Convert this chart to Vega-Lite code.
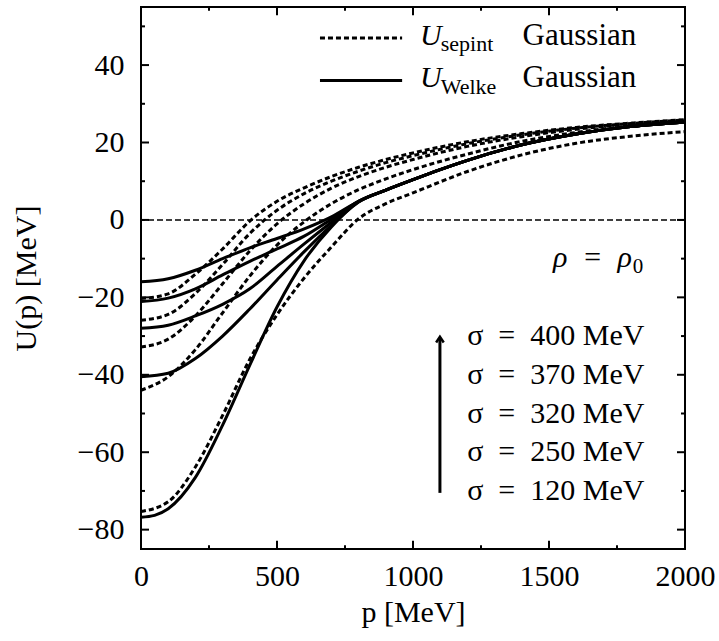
{
  "$schema": "https://vega.github.io/schema/vega-lite/v6.json",
  "width": 544,
  "height": 542,
  "autosize": {"type": "none"},
  "padding": {"left": 141, "top": 7, "right": 34, "bottom": 92},
  "config": {
    "font": "Liberation Serif",
    "view": {"stroke": "black", "strokeWidth": 2},
    "axis": {
      "grid": false, "domain": false, "ticks": false, "labelFlush": false, "labelOverlap": false,
      "labelFont": "Liberation Serif", "labelFontSize": 30, "labelColor": "black",
      "titleFont": "Liberation Serif", "titleFontSize": 30, "titleColor": "black", "titleFontWeight": "normal"
    }
  },
  "datasets": {
    "curves": [
      {"sigma": 400, "model": "sepint", "p": 0, "U": -20.3},
      {"sigma": 400, "model": "sepint", "p": 100, "U": -19.1},
      {"sigma": 400, "model": "sepint", "p": 200, "U": -14},
      {"sigma": 400, "model": "sepint", "p": 300, "U": -7.5},
      {"sigma": 400, "model": "sepint", "p": 400, "U": -0.3},
      {"sigma": 400, "model": "sepint", "p": 500, "U": 4.8},
      {"sigma": 400, "model": "sepint", "p": 600, "U": 8.3},
      {"sigma": 400, "model": "sepint", "p": 700, "U": 11.2},
      {"sigma": 400, "model": "sepint", "p": 800, "U": 13.6},
      {"sigma": 400, "model": "sepint", "p": 900, "U": 15.6},
      {"sigma": 400, "model": "sepint", "p": 1000, "U": 17.3},
      {"sigma": 400, "model": "sepint", "p": 1200, "U": 20.2},
      {"sigma": 400, "model": "sepint", "p": 1400, "U": 22.3},
      {"sigma": 400, "model": "sepint", "p": 1600, "U": 23.9},
      {"sigma": 400, "model": "sepint", "p": 1800, "U": 25},
      {"sigma": 400, "model": "sepint", "p": 2000, "U": 25.9},

      {"sigma": 370, "model": "sepint", "p": 0, "U": -25.9},
      {"sigma": 370, "model": "sepint", "p": 100, "U": -24.4},
      {"sigma": 370, "model": "sepint", "p": 200, "U": -19},
      {"sigma": 370, "model": "sepint", "p": 300, "U": -11.5},
      {"sigma": 370, "model": "sepint", "p": 400, "U": -3.5},
      {"sigma": 370, "model": "sepint", "p": 500, "U": 2.5},
      {"sigma": 370, "model": "sepint", "p": 600, "U": 6.8},
      {"sigma": 370, "model": "sepint", "p": 700, "U": 10},
      {"sigma": 370, "model": "sepint", "p": 800, "U": 12.6},
      {"sigma": 370, "model": "sepint", "p": 900, "U": 14.8},
      {"sigma": 370, "model": "sepint", "p": 1000, "U": 16.6},
      {"sigma": 370, "model": "sepint", "p": 1200, "U": 19.7},
      {"sigma": 370, "model": "sepint", "p": 1400, "U": 22},
      {"sigma": 370, "model": "sepint", "p": 1600, "U": 23.7},
      {"sigma": 370, "model": "sepint", "p": 1800, "U": 24.9},
      {"sigma": 370, "model": "sepint", "p": 2000, "U": 25.8},

      {"sigma": 320, "model": "sepint", "p": 0, "U": -32.8},
      {"sigma": 320, "model": "sepint", "p": 100, "U": -30.8},
      {"sigma": 320, "model": "sepint", "p": 200, "U": -24.8},
      {"sigma": 320, "model": "sepint", "p": 300, "U": -16.5},
      {"sigma": 320, "model": "sepint", "p": 400, "U": -8},
      {"sigma": 320, "model": "sepint", "p": 500, "U": -1},
      {"sigma": 320, "model": "sepint", "p": 600, "U": 4.2},
      {"sigma": 320, "model": "sepint", "p": 700, "U": 8.2},
      {"sigma": 320, "model": "sepint", "p": 800, "U": 11.2},
      {"sigma": 320, "model": "sepint", "p": 900, "U": 13.6},
      {"sigma": 320, "model": "sepint", "p": 1000, "U": 15.6},
      {"sigma": 320, "model": "sepint", "p": 1200, "U": 19},
      {"sigma": 320, "model": "sepint", "p": 1400, "U": 21.5},
      {"sigma": 320, "model": "sepint", "p": 1600, "U": 23.4},
      {"sigma": 320, "model": "sepint", "p": 1800, "U": 24.7},
      {"sigma": 320, "model": "sepint", "p": 2000, "U": 25.7},

      {"sigma": 250, "model": "sepint", "p": 0, "U": -44},
      {"sigma": 250, "model": "sepint", "p": 100, "U": -40.5},
      {"sigma": 250, "model": "sepint", "p": 200, "U": -33.5},
      {"sigma": 250, "model": "sepint", "p": 300, "U": -24},
      {"sigma": 250, "model": "sepint", "p": 400, "U": -14.5},
      {"sigma": 250, "model": "sepint", "p": 500, "U": -6.5},
      {"sigma": 250, "model": "sepint", "p": 600, "U": -0.5},
      {"sigma": 250, "model": "sepint", "p": 700, "U": 4.2},
      {"sigma": 250, "model": "sepint", "p": 800, "U": 7.8},
      {"sigma": 250, "model": "sepint", "p": 900, "U": 10.6},
      {"sigma": 250, "model": "sepint", "p": 1000, "U": 13},
      {"sigma": 250, "model": "sepint", "p": 1200, "U": 17},
      {"sigma": 250, "model": "sepint", "p": 1400, "U": 20.3},
      {"sigma": 250, "model": "sepint", "p": 1600, "U": 22.6},
      {"sigma": 250, "model": "sepint", "p": 1800, "U": 24.3},
      {"sigma": 250, "model": "sepint", "p": 2000, "U": 25.5},

      {"sigma": 120, "model": "sepint", "p": 0, "U": -75.3},
      {"sigma": 120, "model": "sepint", "p": 100, "U": -72.8},
      {"sigma": 120, "model": "sepint", "p": 200, "U": -63.8},
      {"sigma": 120, "model": "sepint", "p": 300, "U": -50.5},
      {"sigma": 120, "model": "sepint", "p": 400, "U": -36},
      {"sigma": 120, "model": "sepint", "p": 500, "U": -24.5},
      {"sigma": 120, "model": "sepint", "p": 600, "U": -15},
      {"sigma": 120, "model": "sepint", "p": 700, "U": -7},
      {"sigma": 120, "model": "sepint", "p": 800, "U": 0.3},
      {"sigma": 120, "model": "sepint", "p": 900, "U": 4.2},
      {"sigma": 120, "model": "sepint", "p": 1000, "U": 7},
      {"sigma": 120, "model": "sepint", "p": 1200, "U": 12.5},
      {"sigma": 120, "model": "sepint", "p": 1400, "U": 16.8},
      {"sigma": 120, "model": "sepint", "p": 1600, "U": 19.8},
      {"sigma": 120, "model": "sepint", "p": 1800, "U": 21.6},
      {"sigma": 120, "model": "sepint", "p": 2000, "U": 22.8},

      {"sigma": 400, "model": "Welke", "p": 0, "U": -16},
      {"sigma": 400, "model": "Welke", "p": 100, "U": -15.2},
      {"sigma": 400, "model": "Welke", "p": 200, "U": -13},
      {"sigma": 400, "model": "Welke", "p": 300, "U": -10},
      {"sigma": 400, "model": "Welke", "p": 400, "U": -7.2},
      {"sigma": 400, "model": "Welke", "p": 500, "U": -4.8},
      {"sigma": 400, "model": "Welke", "p": 600, "U": -2.3},
      {"sigma": 400, "model": "Welke", "p": 700, "U": 0.8},
      {"sigma": 400, "model": "Welke", "p": 800, "U": 4.8},
      {"sigma": 400, "model": "Welke", "p": 900, "U": 7.7},
      {"sigma": 400, "model": "Welke", "p": 1000, "U": 10.4},
      {"sigma": 400, "model": "Welke", "p": 1100, "U": 13},
      {"sigma": 400, "model": "Welke", "p": 1200, "U": 15.4},
      {"sigma": 400, "model": "Welke", "p": 1400, "U": 19.4},
      {"sigma": 400, "model": "Welke", "p": 1600, "U": 22.2},
      {"sigma": 400, "model": "Welke", "p": 1800, "U": 24.1},
      {"sigma": 400, "model": "Welke", "p": 2000, "U": 25.3},

      {"sigma": 370, "model": "Welke", "p": 0, "U": -21.1},
      {"sigma": 370, "model": "Welke", "p": 100, "U": -20.2},
      {"sigma": 370, "model": "Welke", "p": 200, "U": -17.8},
      {"sigma": 370, "model": "Welke", "p": 300, "U": -14.2},
      {"sigma": 370, "model": "Welke", "p": 400, "U": -10.7},
      {"sigma": 370, "model": "Welke", "p": 500, "U": -7.5},
      {"sigma": 370, "model": "Welke", "p": 600, "U": -4.2},
      {"sigma": 370, "model": "Welke", "p": 700, "U": 0.2},
      {"sigma": 370, "model": "Welke", "p": 800, "U": 4.8},
      {"sigma": 370, "model": "Welke", "p": 900, "U": 7.7},
      {"sigma": 370, "model": "Welke", "p": 1000, "U": 10.4},
      {"sigma": 370, "model": "Welke", "p": 1100, "U": 13},
      {"sigma": 370, "model": "Welke", "p": 1200, "U": 15.4},
      {"sigma": 370, "model": "Welke", "p": 1400, "U": 19.4},
      {"sigma": 370, "model": "Welke", "p": 1600, "U": 22.2},
      {"sigma": 370, "model": "Welke", "p": 1800, "U": 24.1},
      {"sigma": 370, "model": "Welke", "p": 2000, "U": 25.3},

      {"sigma": 320, "model": "Welke", "p": 0, "U": -28},
      {"sigma": 320, "model": "Welke", "p": 100, "U": -27.2},
      {"sigma": 320, "model": "Welke", "p": 200, "U": -24.8},
      {"sigma": 320, "model": "Welke", "p": 300, "U": -21.8},
      {"sigma": 320, "model": "Welke", "p": 400, "U": -17.8},
      {"sigma": 320, "model": "Welke", "p": 500, "U": -12},
      {"sigma": 320, "model": "Welke", "p": 600, "U": -6.2},
      {"sigma": 320, "model": "Welke", "p": 700, "U": -0.6},
      {"sigma": 320, "model": "Welke", "p": 800, "U": 4.8},
      {"sigma": 320, "model": "Welke", "p": 900, "U": 7.7},
      {"sigma": 320, "model": "Welke", "p": 1000, "U": 10.4},
      {"sigma": 320, "model": "Welke", "p": 1100, "U": 13},
      {"sigma": 320, "model": "Welke", "p": 1200, "U": 15.4},
      {"sigma": 320, "model": "Welke", "p": 1400, "U": 19.4},
      {"sigma": 320, "model": "Welke", "p": 1600, "U": 22.2},
      {"sigma": 320, "model": "Welke", "p": 1800, "U": 24.1},
      {"sigma": 320, "model": "Welke", "p": 2000, "U": 25.3},

      {"sigma": 250, "model": "Welke", "p": 0, "U": -40.5},
      {"sigma": 250, "model": "Welke", "p": 100, "U": -39.6},
      {"sigma": 250, "model": "Welke", "p": 200, "U": -35.8},
      {"sigma": 250, "model": "Welke", "p": 300, "U": -30},
      {"sigma": 250, "model": "Welke", "p": 400, "U": -23},
      {"sigma": 250, "model": "Welke", "p": 500, "U": -15.5},
      {"sigma": 250, "model": "Welke", "p": 600, "U": -8.2},
      {"sigma": 250, "model": "Welke", "p": 700, "U": -1.4},
      {"sigma": 250, "model": "Welke", "p": 800, "U": 4.7},
      {"sigma": 250, "model": "Welke", "p": 900, "U": 7.7},
      {"sigma": 250, "model": "Welke", "p": 1000, "U": 10.4},
      {"sigma": 250, "model": "Welke", "p": 1100, "U": 13},
      {"sigma": 250, "model": "Welke", "p": 1200, "U": 15.4},
      {"sigma": 250, "model": "Welke", "p": 1400, "U": 19.4},
      {"sigma": 250, "model": "Welke", "p": 1600, "U": 22.2},
      {"sigma": 250, "model": "Welke", "p": 1800, "U": 24.1},
      {"sigma": 250, "model": "Welke", "p": 2000, "U": 25.3},

      {"sigma": 120, "model": "Welke", "p": 0, "U": -76.8},
      {"sigma": 120, "model": "Welke", "p": 50, "U": -76.3},
      {"sigma": 120, "model": "Welke", "p": 100, "U": -74.6},
      {"sigma": 120, "model": "Welke", "p": 200, "U": -66.5},
      {"sigma": 120, "model": "Welke", "p": 300, "U": -53},
      {"sigma": 120, "model": "Welke", "p": 400, "U": -37.5},
      {"sigma": 120, "model": "Welke", "p": 500, "U": -22.5},
      {"sigma": 120, "model": "Welke", "p": 600, "U": -10.5},
      {"sigma": 120, "model": "Welke", "p": 700, "U": -1.8},
      {"sigma": 120, "model": "Welke", "p": 800, "U": 4.6},
      {"sigma": 120, "model": "Welke", "p": 900, "U": 7.7},
      {"sigma": 120, "model": "Welke", "p": 1000, "U": 10.4},
      {"sigma": 120, "model": "Welke", "p": 1100, "U": 13},
      {"sigma": 120, "model": "Welke", "p": 1200, "U": 15.4},
      {"sigma": 120, "model": "Welke", "p": 1400, "U": 19.4},
      {"sigma": 120, "model": "Welke", "p": 1600, "U": 22.2},
      {"sigma": 120, "model": "Welke", "p": 1800, "U": 24.1},
      {"sigma": 120, "model": "Welke", "p": 2000, "U": 25.3}
    ],
    "xmajor": [{"v": 500}, {"v": 1000}, {"v": 1500}],
    "xminor": [{"v": 250}, {"v": 750}, {"v": 1250}, {"v": 1750}],
    "ymajor": [{"v": -80}, {"v": -60}, {"v": -40}, {"v": -20}, {"v": 0}, {"v": 20}, {"v": 40}],
    "yminor": [{"v": -70}, {"v": -50}, {"v": -30}, {"v": -10}, {"v": 10}, {"v": 30}, {"v": 50}]
  },
  "resolve": {"axis": {"x": "independent", "y": "independent"}},
  "layer": [
    {
      "data": {"values": [{}]},
      "mark": {"type": "rule", "color": "black", "strokeWidth": 1.5, "strokeDash": [6, 3]},
      "encoding": {"y": {"datum": 0, "type": "quantitative", "axis": null}}
    },
    {
      "data": {"name": "curves"},
      "transform": [{"filter": "datum.model === 'sepint'"}],
      "mark": {"type": "line", "color": "black", "strokeWidth": 3, "strokeDash": [5, 3], "interpolate": "monotone"},
      "encoding": {
        "x": {"field": "p", "type": "quantitative", "scale": {"domain": [0, 2000], "nice": false, "zero": false},
          "axis": {"orient": "bottom", "title": "p [MeV]", "values": [0, 500, 1000, 1500, 2000], "format": "d",
            "labelPadding": 12, "titlePadding": 6}},
        "y": {"field": "U", "type": "quantitative", "scale": {"domain": [-85, 55], "nice": false, "zero": false},
          "axis": {"orient": "left", "title": "U(p) [MeV]", "values": [-80, -60, -40, -20, 0, 20, 40], "format": "d",
            "labelPadding": 17, "titlePadding": 36}},
        "detail": {"field": "sigma", "type": "nominal"}
      }
    },
    {
      "data": {"name": "curves"},
      "transform": [{"filter": "datum.model === 'Welke'"}],
      "mark": {"type": "line", "color": "black", "strokeWidth": 3, "interpolate": "monotone"},
      "encoding": {
        "x": {"field": "p", "type": "quantitative", "axis": null},
        "y": {"field": "U", "type": "quantitative", "axis": null},
        "detail": {"field": "sigma", "type": "nominal"}
      }
    },
    {
      "data": {"name": "xmajor"},
      "mark": {"type": "rule", "color": "black", "strokeWidth": 2},
      "encoding": {"x": {"field": "v", "type": "quantitative", "axis": null}, "y": {"datum": -85, "type": "quantitative", "axis": null}, "y2": {"datum": -82.9}}
    },
    {
      "data": {"name": "xmajor"},
      "mark": {"type": "rule", "color": "black", "strokeWidth": 2},
      "encoding": {"x": {"field": "v", "type": "quantitative", "axis": null}, "y": {"datum": 55, "type": "quantitative", "axis": null}, "y2": {"datum": 52.9}}
    },
    {
      "data": {"name": "xminor"},
      "mark": {"type": "rule", "color": "black", "strokeWidth": 2},
      "encoding": {"x": {"field": "v", "type": "quantitative", "axis": null}, "y": {"datum": -85, "type": "quantitative", "axis": null}, "y2": {"datum": -84}}
    },
    {
      "data": {"name": "xminor"},
      "mark": {"type": "rule", "color": "black", "strokeWidth": 2},
      "encoding": {"x": {"field": "v", "type": "quantitative", "axis": null}, "y": {"datum": 55, "type": "quantitative", "axis": null}, "y2": {"datum": 54}}
    },
    {
      "data": {"name": "ymajor"},
      "mark": {"type": "rule", "color": "black", "strokeWidth": 2},
      "encoding": {"y": {"field": "v", "type": "quantitative", "axis": null}, "x": {"datum": 0, "type": "quantitative", "axis": null}, "x2": {"datum": 29.4}}
    },
    {
      "data": {"name": "ymajor"},
      "mark": {"type": "rule", "color": "black", "strokeWidth": 2},
      "encoding": {"y": {"field": "v", "type": "quantitative", "axis": null}, "x": {"datum": 2000, "type": "quantitative", "axis": null}, "x2": {"datum": 1970.6}}
    },
    {
      "data": {"name": "yminor"},
      "mark": {"type": "rule", "color": "black", "strokeWidth": 2},
      "encoding": {"y": {"field": "v", "type": "quantitative", "axis": null}, "x": {"datum": 0, "type": "quantitative", "axis": null}, "x2": {"datum": 14.7}}
    },
    {
      "data": {"name": "yminor"},
      "mark": {"type": "rule", "color": "black", "strokeWidth": 2},
      "encoding": {"y": {"field": "v", "type": "quantitative", "axis": null}, "x": {"datum": 2000, "type": "quantitative", "axis": null}, "x2": {"datum": 1985.3}}
    },
    {
      "data": {"values": [{}]},
      "mark": {"type": "rule", "color": "black", "strokeWidth": 3, "strokeDash": [5, 3]},
      "encoding": {"x": {"datum": 658, "type": "quantitative", "axis": null}, "x2": {"datum": 960}, "y": {"datum": 47, "type": "quantitative", "axis": null}}
    },
    {
      "data": {"values": [{}]},
      "mark": {"type": "rule", "color": "black", "strokeWidth": 3},
      "encoding": {"x": {"datum": 658, "type": "quantitative", "axis": null}, "x2": {"datum": 960}, "y": {"datum": 36, "type": "quantitative", "axis": null}}
    },
    {
      "data": {"values": [{}]},
      "mark": {"type": "text", "text": "U", "fontStyle": "italic", "fontSize": 30, "align": "left", "baseline": "alphabetic"},
      "encoding": {"x": {"datum": 1026, "type": "quantitative", "axis": null}, "y": {"datum": 45.3, "type": "quantitative", "axis": null}}
    },
    {
      "data": {"values": [{}]},
      "mark": {"type": "text", "text": "sepint", "fontSize": 22, "align": "left", "baseline": "alphabetic"},
      "encoding": {"x": {"datum": 1102, "type": "quantitative", "axis": null}, "y": {"datum": 43.6, "type": "quantitative", "axis": null}}
    },
    {
      "data": {"values": [{}]},
      "mark": {"type": "text", "text": "Gaussian", "fontSize": 31, "align": "left", "baseline": "alphabetic"},
      "encoding": {"x": {"datum": 1403, "type": "quantitative", "axis": null}, "y": {"datum": 45.3, "type": "quantitative", "axis": null}}
    },
    {
      "data": {"values": [{}]},
      "mark": {"type": "text", "text": "U", "fontStyle": "italic", "fontSize": 30, "align": "left", "baseline": "alphabetic"},
      "encoding": {"x": {"datum": 1026, "type": "quantitative", "axis": null}, "y": {"datum": 34.3, "type": "quantitative", "axis": null}}
    },
    {
      "data": {"values": [{}]},
      "mark": {"type": "text", "text": "Welke", "fontSize": 22, "align": "left", "baseline": "alphabetic"},
      "encoding": {"x": {"datum": 1102, "type": "quantitative", "axis": null}, "y": {"datum": 32.6, "type": "quantitative", "axis": null}}
    },
    {
      "data": {"values": [{}]},
      "mark": {"type": "text", "text": "Gaussian", "fontSize": 31, "align": "left", "baseline": "alphabetic"},
      "encoding": {"x": {"datum": 1403, "type": "quantitative", "axis": null}, "y": {"datum": 34.3, "type": "quantitative", "axis": null}}
    },
    {
      "data": {"values": [{}]},
      "mark": {"type": "text", "text": "ρ\u00a0\u00a0=\u00a0\u00a0ρ", "fontSize": 30, "fontStyle": "italic", "align": "right", "baseline": "alphabetic"},
      "encoding": {"x": {"datum": 1805, "type": "quantitative", "axis": null}, "y": {"datum": -12.1, "type": "quantitative", "axis": null}}
    },
    {
      "data": {"values": [{}]},
      "mark": {"type": "text", "text": "0", "fontSize": 21, "align": "left", "baseline": "alphabetic"},
      "encoding": {"x": {"datum": 1808, "type": "quantitative", "axis": null}, "y": {"datum": -13.6, "type": "quantitative", "axis": null}}
    },
    {
      "data": {"values": [{}]},
      "mark": {"type": "rule", "color": "black", "strokeWidth": 3},
      "encoding": {"x": {"datum": 1099, "type": "quantitative", "axis": null}, "y": {"datum": -70.5, "type": "quantitative", "axis": null}, "y2": {"datum": -30.6}}
    },
    {
      "data": {"values": [{}]},
      "mark": {"type": "point", "shape": "M -0.6 0.9 L 0 0 L 0.6 0.9", "size": 160, "filled": false, "stroke": "black", "strokeWidth": 2.5, "opacity": 1},
      "encoding": {"x": {"datum": 1099, "type": "quantitative", "axis": null}, "y": {"datum": -30.2, "type": "quantitative", "axis": null}}
    },
    {
      "data": {"values": [{}]},
      "mark": {"type": "text", "text": "σ\u00a0 =\u00a0 400 MeV", "fontSize": 30, "align": "left", "baseline": "middle"},
      "encoding": {"x": {"datum": 1199, "type": "quantitative", "axis": null}, "y": {"datum": -30, "type": "quantitative", "axis": null}}
    },
    {
      "data": {"values": [{}]},
      "mark": {"type": "text", "text": "σ\u00a0 =\u00a0 370 MeV", "fontSize": 30, "align": "left", "baseline": "middle"},
      "encoding": {"x": {"datum": 1199, "type": "quantitative", "axis": null}, "y": {"datum": -40, "type": "quantitative", "axis": null}}
    },
    {
      "data": {"values": [{}]},
      "mark": {"type": "text", "text": "σ\u00a0 =\u00a0 320 MeV", "fontSize": 30, "align": "left", "baseline": "middle"},
      "encoding": {"x": {"datum": 1199, "type": "quantitative", "axis": null}, "y": {"datum": -50, "type": "quantitative", "axis": null}}
    },
    {
      "data": {"values": [{}]},
      "mark": {"type": "text", "text": "σ\u00a0 =\u00a0 250 MeV", "fontSize": 30, "align": "left", "baseline": "middle"},
      "encoding": {"x": {"datum": 1199, "type": "quantitative", "axis": null}, "y": {"datum": -60, "type": "quantitative", "axis": null}}
    },
    {
      "data": {"values": [{}]},
      "mark": {"type": "text", "text": "σ\u00a0 =\u00a0 120 MeV", "fontSize": 30, "align": "left", "baseline": "middle"},
      "encoding": {"x": {"datum": 1199, "type": "quantitative", "axis": null}, "y": {"datum": -70, "type": "quantitative", "axis": null}}
    }
  ]
}
